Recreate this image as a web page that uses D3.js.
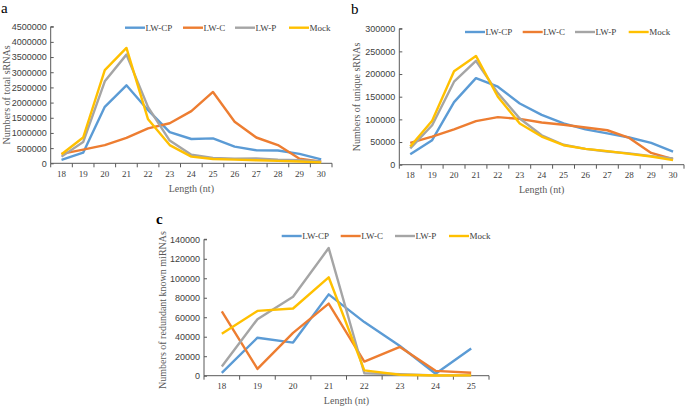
<!DOCTYPE html>
<html>
<head>
<meta charset="utf-8">
<script src="https://cdn.jsdelivr.net/npm/d3@7"></script>
<style>
  body { margin: 0; background: #fff; }
  svg { font-family: "Liberation Serif", "Times New Roman", serif; }
</style>
</head>
<body>
<svg id="chart" width="685" height="406"></svg>
<script>
const SERIES = ['LW-CP', 'LW-C', 'LW-P', 'Mock'];
const COLORS = ['#5b9bd5', '#ed7d31', '#a5a5a5', '#ffc000'];

const LENGTHS_AB = [18, 19, 20, 21, 22, 23, 24, 25, 26, 27, 28, 29, 30];
const LENGTHS_C = [18, 19, 20, 21, 22, 23, 24, 25];

// a: total sRNAs
const TOTAL_CP   = [110000, 350000, 1860000, 2570000, 1750000, 1030000, 800000, 820000, 550000, 430000, 420000, 310000, 130000];
const TOTAL_C    = [310000, 450000, 600000, 840000, 1150000, 1320000, 1720000, 2350000, 1370000, 850000, 600000, 150000, 50000];
const TOTAL_P    = [220000, 700000, 2700000, 3580000, 1850000, 750000, 280000, 180000, 150000, 160000, 120000, 100000, 60000];
const TOTAL_MOCK = [300000, 850000, 3070000, 3800000, 1450000, 600000, 220000, 140000, 120000, 100000, 80000, 60000, 30000];

// b: unique sRNAs
const UNIQ_CP   = [23000, 54000, 138000, 191000, 172000, 135000, 110000, 91000, 78000, 69000, 60000, 48000, 29000];
const UNIQ_C    = [48000, 62000, 78000, 96000, 105000, 101000, 93000, 88000, 82000, 76000, 59000, 26000, 12000];
const UNIQ_P    = [36000, 87000, 183000, 229000, 158000, 102000, 65000, 44000, 35000, 29000, 25000, 19000, 14000];
const UNIQ_MOCK = [40000, 97000, 206000, 240000, 150000, 91000, 62000, 43000, 35000, 30000, 24000, 18000, 10000];

// c: redundant known miRNAs
const MIR_CP   = [3000, 39000, 34000, 83500, 55000, 30500, 2000, 28000];
const MIR_C    = [66000, 7000, 44000, 74000, 14500, 29500, 5000, 3000];
const MIR_P    = [9500, 58000, 81000, 131000, 2500, 1500, 300, 300];
const MIR_MOCK = [43000, 66500, 69000, 101000, 5500, 1000, 200, 300];

const svg = d3.select('#chart');
const AXIS = '#595959';
const TXT = '#404040';

function drawPanel(p) {
  const g = svg.append('g');

  const x = d3.scaleBand().domain(p.cats).range([p.left, p.right]);
  const y = d3.scaleLinear().domain([0, p.max]).range([p.bottom, p.top]);

  // y axis, ticks point inward
  const ya = g.append('g')
    .attr('transform', `translate(${p.left},0)`)
    .call(d3.axisLeft(y).tickValues(d3.range(0, p.max + 1, p.step)).tickSize(-3).tickPadding(4).tickFormat(d3.format('d')));
  ya.select('.domain').attr('stroke', AXIS).attr('d', `M3,${p.top}H0V${p.bottom}`);
  ya.selectAll('.tick line').attr('stroke', AXIS);
  ya.selectAll('.tick text').attr('fill', TXT).attr('font-size', 9).attr('font-family', 'inherit');

  // x axis, ticks between categories
  const xa = g.append('g').attr('transform', `translate(0,${p.bottom})`);
  xa.append('line').attr('x1', p.left).attr('x2', p.right).attr('stroke', AXIS);
  const bounds = p.cats.map(c => x(c)).concat([p.right]);
  xa.selectAll('.xt').data(bounds).join('line')
    .attr('x1', d => d).attr('x2', d => d).attr('y1', 0).attr('y2', 4)
    .attr('stroke', AXIS);
  xa.selectAll('.xl').data(p.cats).join('text')
    .attr('x', d => x(d) + x.bandwidth() / 2).attr('y', 13.5)
    .attr('text-anchor', 'middle').attr('font-size', 9).attr('fill', TXT)
    .text(d => d);

  const line = d3.line().x((d, i) => x(p.cats[i]) + x.bandwidth() / 2).y(d => y(d));
  p.series.forEach((vals, i) => {
    g.append('path').datum(vals)
      .attr('d', line).attr('fill', 'none')
      .attr('stroke', COLORS[i]).attr('stroke-width', 2.4)
      .attr('stroke-linejoin', 'round');
  });

  // legend
  SERIES.forEach((s, i) => {
    const lx = p.legendX[i];
    g.append('line').attr('x1', lx).attr('x2', lx + 20).attr('y1', p.legendY).attr('y2', p.legendY)
      .attr('stroke', COLORS[i]).attr('stroke-width', 2.4);
    g.append('text').attr('x', lx + 20.5).attr('y', p.legendY + 3.2)
      .attr('font-size', 9).attr('fill', TXT).text(s);
  });

  // axis titles
  g.append('text')
    .attr('x', (p.left + p.right) / 2).attr('y', p.bottom + 28.5)
    .attr('text-anchor', 'middle').attr('font-size', 10).attr('fill', AXIS)
    .text('Length (nt)');
  g.append('text')
    .attr('transform', `translate(${p.yTitleX},${p.yTitleY}) rotate(-90)`)
    .attr('text-anchor', 'middle').attr('font-size', 10).attr('fill', AXIS)
    .text(p.yTitle);

  // panel letter
  g.append('text').attr('x', p.labelX).attr('y', p.labelY)
    .attr('font-size', 15).attr('font-weight', p.bold ? 'bold' : 'normal').attr('fill', '#000')
    .text(p.label);
}

drawPanel({
  cats: LENGTHS_AB, max: 4500000, step: 500000,
  left: 50.7, right: 332, top: 26.7, bottom: 163.3,
  series: [TOTAL_CP, TOTAL_C, TOTAL_P, TOTAL_MOCK],
  legendX: [125, 183, 235, 289], legendY: 27.7,
  yTitle: 'Numbers of total sRNAs', yTitleX: 9.5, yTitleY: 95,
  label: 'a', labelX: 1, labelY: 13
});

drawPanel({
  cats: LENGTHS_AB, max: 300000, step: 50000,
  left: 399.3, right: 684, top: 28.7, bottom: 164.7,
  series: [UNIQ_CP, UNIQ_C, UNIQ_P, UNIQ_MOCK],
  legendX: [465, 522.7, 575, 628.7], legendY: 32,
  yTitle: 'Numbers of unique sRNAs', yTitleX: 360, yTitleY: 97,
  label: 'b', labelX: 351, labelY: 14
});

drawPanel({
  cats: LENGTHS_C, max: 140000, step: 20000,
  left: 204, right: 489, top: 239.3, bottom: 375.7,
  series: [MIR_CP, MIR_C, MIR_P, MIR_MOCK],
  legendX: [281.7, 340.7, 395, 449], legendY: 236,
  yTitle: 'Numbers of redundant known miRNAs', yTitleX: 166, yTitleY: 310,
  label: 'c', labelX: 156, labelY: 224, bold: true
});
</script>
</body>
</html>
